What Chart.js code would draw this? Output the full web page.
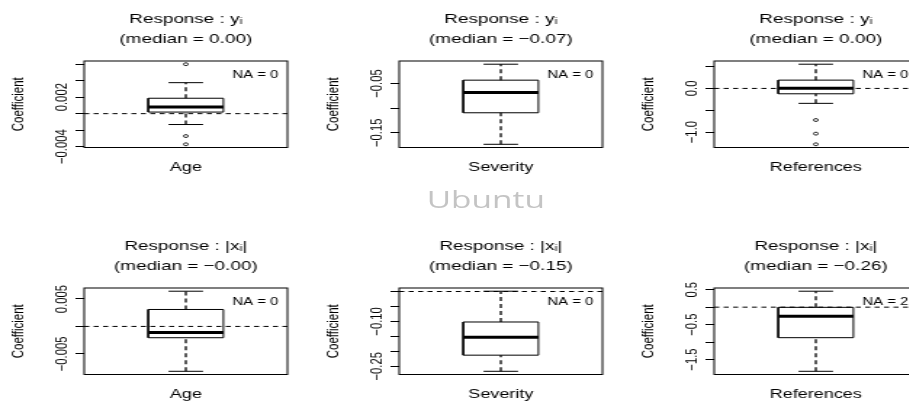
<!DOCTYPE html>
<html>
<head>
<meta charset="utf-8">
<script src="https://cdn.jsdelivr.net/npm/chart.js@4.4.1/dist/chart.umd.min.js"></script>
<style>
html,body{margin:0;padding:0;background:#fff;overflow:hidden;width:909px;height:408px;}
/* panels are laid out narrow and stretched sideways */
#wrap{position:absolute;left:0;top:0;width:627px;height:408px;transform:scaleX(1.4516);transform-origin:0 0;}
#wrap canvas{position:absolute;}
#mark{position:absolute;left:294px;top:188px;font-family:"Open Sans",sans-serif;font-size:23px;line-height:23px;color:#c4c4c4;white-space:nowrap;}
</style>
</head>
<body>
<div id="wrap">
  <span id="mark">Ubuntu</span>
</div>
<script>
const categories = ['Age', 'Severity', 'References'];
const responses = ['Response : yᵢ', 'Response : |xᵢ|'];

// box stats, [row][column]
const whiskLow  = [[-0.00132, -0.1735, -0.342], [-0.00818, -0.267, -1.837]];
const q1        = [[ 0.00019, -0.1095, -0.123], [-0.00206, -0.213, -0.874]];
const medians   = [[ 0.0008,  -0.0682,  0.004], [-0.00109, -0.153, -0.262]];
const q3        = [[ 0.00187, -0.0433,  0.19 ], [ 0.00309, -0.102, -0.005]];
const whiskHigh = [[ 0.00376, -0.0109,  0.555], [ 0.00642,  0.001,  0.457]];
const outliers  = [[[0.006, -0.00272, -0.00372], [], [-0.724, -1.036, -1.28]], [[], [], []]];
const naCounts  = [[0, 0, 0], [0, 0, 2]];

// y axis ticks, and the text shown at each one
const yTicks = [
  [[0.006, 0.004, 0.002, 0, -0.002, -0.004], [-0.05, -0.10, -0.15], [0.5, 0, -0.5, -1.0]],
  [[0.005, 0, -0.005], [0, -0.05, -0.10, -0.15, -0.20, -0.25], [0.5, 0, -0.5, -1.0, -1.5]]
];
const yLabels = [
  [['', '', '0.002', '', '', '−0.004'], ['−0.05', '', '−0.15'], ['', '0.0', '', '−1.0']],
  [['0.005', '', '−0.005'], ['', '', '−0.10', '', '', '−0.25'], ['0.5', '', '−0.5', '', '−1.5']]
];

const FONT = '"Liberation Sans", Arial, Helvetica, sans-serif';
const CW = 217, CH = 181, ROW_GAP = 227;
const BOX = 0.185, CAP = 0.085;   // half widths on the x axis (box sits at x = 1)
const TICK_FONT = 11.3, TICK_LEN = 6, LABEL_DIST = 15.5;

Chart.defaults.font.family = FONT;
Chart.defaults.color = '#000';

const meas = document.createElement('canvas').getContext('2d');
function widest(labels, size) {
  meas.font = size + 'px ' + FONT;
  return Math.max(0, ...labels.map(t => meas.measureText(t).width));
}

function fmt2(v) {
  return v.toFixed(2).replace('-', '−');
}

function yLimits(r, c) {
  const vals = [whiskLow[r][c], whiskHigh[r][c], ...outliers[r][c]];
  const lo = Math.min(...vals), hi = Math.max(...vals);
  const pad = (hi - lo) * 0.04;
  return [lo - pad, hi + pad];
}

// plot frame and the NA count in the corner
const frame = {
  id: 'frame',
  afterDatasetsDraw(chart, args, opts) {
    const {ctx, chartArea: a} = chart;
    ctx.save();
    ctx.strokeStyle = '#000';
    ctx.lineWidth = 1;
    ctx.strokeRect(a.left, a.top, a.right - a.left, a.bottom - a.top);
    ctx.font = '10.3px ' + FONT;
    ctx.fillStyle = '#000';
    ctx.textAlign = 'right';
    ctx.textBaseline = 'middle';
    ctx.fillText(opts.text, a.right - 6.2, a.top + 14.3);
    ctx.restore();
  }
};

function seg(points, extra) {
  return Object.assign({
    type: 'line',
    data: points,
    borderColor: '#000',
    borderWidth: 1,
    pointRadius: 0,
    fill: false
  }, extra || {});
}

function panel(r, c) {
  const cv = document.createElement('canvas');
  cv.width = CW;
  cv.height = CH;
  cv.style.left = (c * CW) + 'px';
  cv.style.top = (r * ROW_GAP) + 'px';
  document.getElementById('wrap').appendChild(cv);

  const [ymin, ymax] = yLimits(r, c);
  const lo = whiskLow[r][c], a = q1[r][c], m = medians[r][c], b = q3[r][c], hi = whiskHigh[r][c];

  const datasets = [];
  if (ymin < 0 && ymax > 0) {
    datasets.push(seg([{x: 0.5, y: 0}, {x: 1.5, y: 0}], {borderDash: [3.5, 3]}));
  }
  datasets.push(seg([{x: 1 - BOX, y: m}, {x: 1 + BOX, y: m}], {borderWidth: 3, borderCapStyle: 'butt'}));
  datasets.push(seg([{x: 1, y: lo}, {x: 1, y: a}], {borderDash: [4, 3], borderWidth: 1.3}));
  datasets.push(seg([{x: 1, y: b}, {x: 1, y: hi}], {borderDash: [4, 3], borderWidth: 1.3}));
  datasets.push(seg([{x: 1 - CAP, y: lo}, {x: 1 + CAP, y: lo}]));
  datasets.push(seg([{x: 1 - CAP, y: hi}, {x: 1 + CAP, y: hi}]));
  datasets.push(seg([
    {x: 1 - BOX, y: a}, {x: 1 + BOX, y: a}, {x: 1 + BOX, y: b}, {x: 1 - BOX, y: b}, {x: 1 - BOX, y: a}
  ]));
  datasets.push({
    type: 'line',
    data: outliers[r][c].map(v => ({x: 1, y: v})),
    showLine: false,
    pointRadius: 1.5,
    pointBorderWidth: 0.8,
    pointBorderColor: '#000',
    pointBackgroundColor: '#fff'
  });

  const labels = yLabels[r][c];
  const tickPad = LABEL_DIST - TICK_LEN - widest(labels, TICK_FONT) / 2;

  new Chart(cv, {
    type: 'line',
    data: {datasets: datasets},
    options: {
      responsive: false,
      animation: false,
      events: [],
      layout: {padding: {left: 0, right: 19, top: 0, bottom: 0}},
      plugins: {
        legend: {display: false},
        tooltip: {enabled: false},
        title: {
          display: true,
          fullSize: false,
          text: [responses[r], '(median = ' + fmt2(m) + ')'],
          font: {size: 13, weight: 'normal', lineHeight: 1.5},
          padding: {top: 10, bottom: 12},
          color: '#000'
        },
        frame: {text: 'NA = ' + naCounts[r][c]}
      },
      scales: {
        x: {
          type: 'linear',
          min: 0.5,
          max: 1.5,
          afterBuildTicks: s => { s.ticks = [{value: 1}]; },
          afterFit: s => { s.height = 33.5; },
          grid: {display: false, drawTicks: false},
          border: {display: false},
          ticks: {
            callback: () => categories[c],
            autoSkip: false,
            maxRotation: 0,
            minRotation: 0,
            padding: 12.8,
            font: {size: 12.4},
            color: '#000'
          }
        },
        y: {
          type: 'linear',
          position: 'left',
          min: ymin,
          max: ymax,
          afterBuildTicks: s => { s.ticks = yTicks[r][c].map(v => ({value: v})); },
          afterFit: s => { s.width = 58; },
          border: {display: false},
          grid: {
            drawOnChartArea: false,
            drawTicks: true,
            tickLength: TICK_LEN,
            color: '#000',
            lineWidth: 1
          },
          ticks: {
            callback: (v, i) => labels[i],
            autoSkip: false,
            minRotation: 90,
            maxRotation: 90,
            crossAlign: 'center',
            padding: tickPad,
            font: {size: TICK_FONT},
            color: '#000'
          },
          title: {
            display: true,
            text: 'Coefficient',
            font: {size: 11.5},
            padding: {top: 6.2, bottom: 0},
            color: '#000'
          }
        }
      }
    },
    plugins: [frame]
  });
}

for (let r = 0; r < 2; r++) {
  for (let c = 0; c < 3; c++) panel(r, c);
}
</script>
</body>
</html>
